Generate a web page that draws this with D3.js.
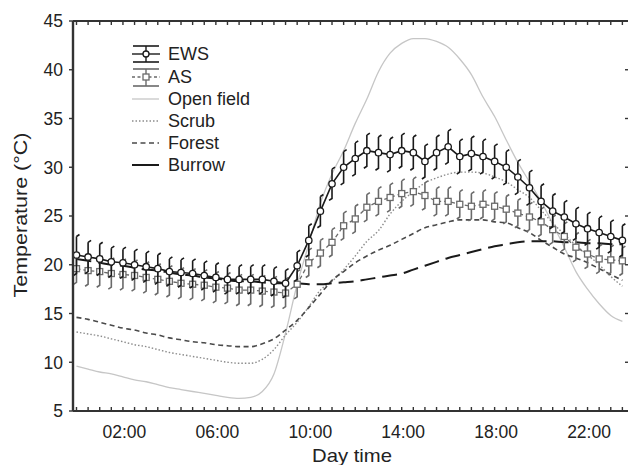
<!DOCTYPE html>
<html>
<head>
<meta charset="utf-8">
<script src="https://cdn.jsdelivr.net/npm/d3@7"></script>
<style>
  body { margin: 0; background: #fff; }
  text { font-family: "Liberation Sans", Arial, sans-serif; fill: #222; }
</style>
</head>
<body>
<svg id="chart"></svg>
<script>
// half-hourly readings, 00:00 .. 23:30
const hours = [0, 0.5, 1, 1.5, 2, 2.5, 3, 3.5, 4, 4.5, 5, 5.5, 6, 6.5, 7, 7.5,
    8, 8.5, 9, 9.5, 10, 10.5, 11, 11.5, 12, 12.5, 13, 13.5, 14, 14.5, 15, 15.5,
    16, 16.5, 17, 17.5, 18, 18.5, 19, 19.5, 20, 20.5, 21, 21.5, 22, 22.5, 23, 23.5];

const ews = [21.0, 20.8, 20.6, 20.3, 20.2, 20.0, 19.8, 19.6, 19.3, 19.2, 19.1, 18.9, 18.7, 18.5, 18.5, 18.5,
    18.5, 18.3, 18.1, 19.9, 22.5, 25.5, 28.3, 30.0, 30.9, 31.7, 31.5, 31.3, 31.7, 31.5, 30.6, 31.5,
    32.1, 31.1, 31.4, 31.1, 30.6, 30.0, 29.0, 27.9, 26.5, 25.5, 24.9, 24.2, 23.7, 23.3, 22.9, 22.5];
const ewsErr = [1.9, 1.5, 1.5, 1.4, 1.4, 1.4, 1.4, 1.4, 1.3, 1.3, 1.3, 1.3, 1.3, 1.3, 1.3, 1.3,
    1.3, 1.3, 1.3, 1.4, 1.5, 1.5, 1.5, 1.6, 1.6, 1.6, 1.6, 1.6, 1.6, 1.6, 1.6, 1.6,
    1.6, 1.6, 1.6, 1.6, 1.6, 1.6, 1.6, 1.6, 1.6, 1.6, 1.5, 1.5, 1.5, 1.5, 1.5, 1.5];

const as = [19.6, 19.4, 19.3, 19.1, 19.0, 18.9, 18.7, 18.5, 18.3, 18.1, 18.0, 17.9, 17.7, 17.6, 17.4, 17.4,
    17.3, 17.2, 17.1, 18.0, 20.2, 21.2, 22.3, 24.0, 24.7, 25.9, 26.5, 26.9, 27.3, 27.5, 27.1, 26.5,
    26.5, 26.2, 26.0, 26.2, 26.0, 25.7, 25.3, 24.9, 24.4, 23.6, 22.9, 21.8, 21.1, 20.6, 20.5, 20.4];
const asErr = [1.4, 1.4, 1.4, 1.4, 1.4, 1.4, 1.4, 1.4, 1.4, 1.4, 1.4, 1.4, 1.4, 1.4, 1.4, 1.4,
    1.4, 1.4, 1.4, 1.3, 1.3, 1.3, 1.3, 1.3, 1.3, 1.3, 1.3, 1.3, 1.3, 1.3, 1.3, 1.3,
    1.3, 1.3, 1.3, 1.3, 1.3, 1.3, 1.3, 1.3, 1.3, 1.3, 1.3, 1.3, 1.3, 1.3, 1.3, 1.3];

const openField = [9.6, 9.3, 9.0, 8.8, 8.5, 8.2, 8.0, 7.7, 7.4, 7.2, 7.0, 6.8, 6.6, 6.4, 6.3, 6.4,
    7.0, 8.8, 13.0, 18.0, 22.1, 26.3, 29.3, 31.7, 34.5, 37.0, 39.8, 41.7, 42.7, 43.2, 43.2, 42.9,
    42.3, 41.1, 39.5, 37.2, 35.2, 32.8, 30.5, 28.5, 26.5, 24.2, 21.8, 19.3, 17.5, 16.0, 14.8, 14.2];
const scrub = [13.1, 12.9, 12.7, 12.4, 12.1, 11.8, 11.6, 11.3, 11.0, 10.8, 10.6, 10.4, 10.2, 10.0, 9.9, 9.9,
    10.3, 11.3, 12.8, 14.1, 15.7, 17.4, 18.3, 19.5, 20.9, 22.4, 23.5, 25.2, 26.5, 27.5, 28.4, 28.9,
    29.3, 29.5, 29.5, 29.4, 29.0, 28.5, 27.7, 26.9, 25.6, 24.3, 23.1, 22.0, 21.0, 20.0, 18.8, 17.8];
const forest = [14.6, 14.4, 14.1, 13.8, 13.5, 13.3, 13.0, 12.8, 12.5, 12.3, 12.1, 12.0, 11.8, 11.7, 11.6, 11.6,
    11.9, 12.4, 13.3, 14.3, 15.6, 17.0, 18.4, 19.3, 20.2, 20.9, 21.5, 22.0, 22.6, 23.2, 23.8, 24.1,
    24.4, 24.6, 24.6, 24.6, 24.4, 24.3, 23.8, 23.3, 22.5, 21.8, 21.1, 20.7, 20.2, 19.6, 19.0, 18.4];
const burrow = [20.6, 20.4, 20.2, 20.0, 19.9, 19.7, 19.5, 19.4, 19.2, 19.0, 18.9, 18.7, 18.6, 18.4, 18.3, 18.3,
    18.2, 18.1, 18.1, 18.1, 18.0, 18.0, 18.1, 18.2, 18.3, 18.5, 18.7, 18.9, 19.1, 19.5, 19.9, 20.3,
    20.7, 21.0, 21.3, 21.6, 21.9, 22.1, 22.3, 22.4, 22.4, 22.4, 22.3, 22.3, 22.2, 22.2, 22.1, 22.1];

const xTickHours = [2, 6, 10, 14, 18, 22];
const xTickLabels = ["02:00", "06:00", "10:00", "14:00", "18:00", "22:00"];
const yTicks = [5, 10, 15, 20, 25, 30, 35, 40, 45];

const width = 628, height = 465;
const plotLeft = 73, plotRight = 634, plotTop = 21, plotBottom = 411;

const x = d3.scaleLinear().domain([-0.15, 24]).range([plotLeft, plotRight]);
const y = d3.scaleLinear().domain([5, 45]).range([plotBottom, plotTop]);

const svg = d3.select("#chart")
    .attr("width", width)
    .attr("height", height);

svg.append("defs").append("clipPath")
    .attr("id", "plot")
    .append("rect")
    .attr("x", plotLeft).attr("y", plotTop)
    .attr("width", plotRight - plotLeft).attr("height", plotBottom - plotTop);

const plot = svg.append("g").attr("clip-path", "url(#plot)");

function lineOf(values, curve) {
    return d3.line()
        .x((d, i) => x(hours[i]))
        .y(d => y(d))
        .curve(curve)(values);
}

// habitat temperatures
const habitats = [
    {values: openField, color: "#c6c6c6", width: 1.3, dash: null},
    {values: scrub, color: "#8c8c8c", width: 1.4, dash: "1.5,2"},
    {values: forest, color: "#4a4a4a", width: 1.6, dash: "5,3.5"},
    {values: burrow, color: "#1a1a1a", width: 2, dash: "15,7"}
];

habitats.forEach(function (h) {
    plot.append("path")
        .attr("d", lineOf(h.values, d3.curveMonotoneX))
        .attr("fill", "none")
        .attr("stroke", h.color)
        .attr("stroke-width", h.width)
        .attr("stroke-dasharray", h.dash);
});

// whisker: vertical line with small offset caps
function whisker(g, values, errs, color) {
    g.selectAll(null)
        .data(values)
        .enter().append("path")
        .attr("d", function (d, i) {
            const cx = x(hours[i]), y1 = y(d + errs[i]), y2 = y(d - errs[i]);
            return "M" + cx + "," + y1 + "L" + (cx + 3) + "," + (y1 - 2) +
                "M" + cx + "," + y1 + "L" + cx + "," + y2 +
                "L" + (cx - 3) + "," + (y2 + 2);
        })
        .attr("fill", "none")
        .attr("stroke", color)
        .attr("stroke-width", 1.6);
}

// AS series
const gAs = plot.append("g");
whisker(gAs, as, asErr, "#6a6a6a");
gAs.append("path")
    .attr("d", lineOf(as, d3.curveLinear))
    .attr("fill", "none")
    .attr("stroke", "#6a6a6a")
    .attr("stroke-width", 1.3)
    .attr("stroke-dasharray", "4,3");
gAs.selectAll("rect")
    .data(as)
    .enter().append("rect")
    .attr("x", (d, i) => x(hours[i]) - 3)
    .attr("y", d => y(d) - 3)
    .attr("width", 6).attr("height", 6)
    .attr("fill", "#fff")
    .attr("stroke", "#6a6a6a")
    .attr("stroke-width", 1.3);

// EWS series
const gEws = plot.append("g");
whisker(gEws, ews, ewsErr, "#1a1a1a");
gEws.append("path")
    .attr("d", lineOf(ews, d3.curveLinear))
    .attr("fill", "none")
    .attr("stroke", "#1a1a1a")
    .attr("stroke-width", 1.6);
gEws.selectAll("circle")
    .data(ews)
    .enter().append("circle")
    .attr("cx", (d, i) => x(hours[i]))
    .attr("cy", d => y(d))
    .attr("r", 3.2)
    .attr("fill", "#fff")
    .attr("stroke", "#1a1a1a")
    .attr("stroke-width", 1.3);

// frame and ticks
const halfHours = d3.range(0, 24.01, 0.5);
const axisColor = "#333";

svg.append("line")
    .attr("x1", plotLeft).attr("x2", width + 5).attr("y1", plotBottom).attr("y2", plotBottom)
    .attr("stroke", axisColor).attr("stroke-width", 2);
svg.append("line")
    .attr("x1", plotLeft).attr("x2", width + 5).attr("y1", plotTop).attr("y2", plotTop)
    .attr("stroke", axisColor).attr("stroke-width", 2);
svg.append("line")
    .attr("x1", plotLeft).attr("x2", plotLeft).attr("y1", plotTop).attr("y2", plotBottom)
    .attr("stroke", axisColor).attr("stroke-width", 2.4);

svg.selectAll(".tb")
    .data(halfHours)
    .enter().append("line")
    .attr("class", "tb")
    .attr("x1", d => x(d)).attr("x2", d => x(d))
    .attr("y1", plotBottom).attr("y2", plotBottom - 4)
    .attr("stroke", axisColor).attr("stroke-width", 1.4);
svg.selectAll(".tt")
    .data(halfHours)
    .enter().append("line")
    .attr("class", "tt")
    .attr("x1", d => x(d)).attr("x2", d => x(d))
    .attr("y1", plotTop).attr("y2", plotTop + 4)
    .attr("stroke", axisColor).attr("stroke-width", 1.4);

svg.selectAll(".tl")
    .data(yTicks)
    .enter().append("line")
    .attr("class", "tl")
    .attr("x1", plotLeft - 4).attr("x2", plotLeft)
    .attr("y1", d => y(d)).attr("y2", d => y(d))
    .attr("stroke", axisColor).attr("stroke-width", 1.4);
svg.selectAll(".tr")
    .data(yTicks)
    .enter().append("line")
    .attr("class", "tr")
    .attr("x1", width - 3).attr("x2", width + 2)
    .attr("y1", d => y(d)).attr("y2", d => y(d))
    .attr("stroke", axisColor).attr("stroke-width", 1.4);

svg.selectAll(".yl")
    .data(yTicks)
    .enter().append("text")
    .attr("class", "yl")
    .attr("x", plotLeft - 10)
    .attr("y", d => y(d))
    .attr("dy", "0.36em")
    .attr("text-anchor", "end")
    .style("font-size", "17.5px")
    .text(d => d);

svg.selectAll(".xl")
    .data(xTickHours)
    .enter().append("text")
    .attr("class", "xl")
    .attr("x", d => x(d) + 1.5)
    .attr("y", 438)
    .attr("text-anchor", "middle")
    .style("font-size", "17.5px")
    .text((d, i) => xTickLabels[i]);

svg.append("text")
    .attr("x", 352).attr("y", 462)
    .attr("text-anchor", "middle")
    .attr("textLength", 80).attr("lengthAdjust", "spacingAndGlyphs")
    .style("font-size", "18.5px")
    .text("Day time");

svg.append("text")
    .attr("transform", "translate(27,215) rotate(-90)")
    .attr("text-anchor", "middle")
    .attr("textLength", 165).attr("lengthAdjust", "spacingAndGlyphs")
    .style("font-size", "18.5px")
    .text("Temperature (°C)");

// legend
const legend = svg.append("g");
const lx1 = 132, lx2 = 160, lcx = 146, ltx = 168;

function legendText(label, cy) {
    legend.append("text")
        .attr("x", ltx).attr("y", cy)
        .attr("dy", "0.36em")
        .style("font-size", "18px")
        .text(label);
}

[[46, 62, 54, "#1a1a1a", null, "EWS"], [69, 86, 77, "#6a6a6a", "3,2.5", "AS"]].forEach(function (r) {
    [r[0], r[1]].forEach(function (cy) {
        legend.append("line")
            .attr("x1", lx1 + 1).attr("x2", lx2 - 1).attr("y1", cy).attr("y2", cy)
            .attr("stroke", r[3]).attr("stroke-width", 1.6);
    });
    legend.append("line")
        .attr("x1", lcx).attr("x2", lcx).attr("y1", r[0]).attr("y2", r[1])
        .attr("stroke", r[3]).attr("stroke-width", 1.4);
    legend.append("line")
        .attr("x1", lx1).attr("x2", lx2).attr("y1", r[2]).attr("y2", r[2])
        .attr("stroke", r[3]).attr("stroke-width", 1.4)
        .attr("stroke-dasharray", r[4]);
    if (r[5] === "EWS") {
        legend.append("circle").attr("cx", lcx).attr("cy", r[2]).attr("r", 3)
            .attr("fill", "#fff").attr("stroke", r[3]).attr("stroke-width", 1.3);
    } else {
        legend.append("rect").attr("x", lcx - 3).attr("y", r[2] - 3).attr("width", 6).attr("height", 6)
            .attr("fill", "#fff").attr("stroke", r[3]).attr("stroke-width", 1.3);
    }
    legendText(r[5], r[2]);
});

const habitatNames = ["Open field", "Scrub", "Forest", "Burrow"];
const habitatRows = [99, 121, 143, 165];
habitats.forEach(function (h, i) {
    legend.append("line")
        .attr("x1", lx1).attr("x2", lx2 - 1)
        .attr("y1", habitatRows[i]).attr("y2", habitatRows[i])
        .attr("stroke", h.color)
        .attr("stroke-width", h.width)
        .attr("stroke-dasharray", i === 3 ? null : h.dash);
    legendText(habitatNames[i], habitatRows[i]);
});
</script>
</body>
</html>
